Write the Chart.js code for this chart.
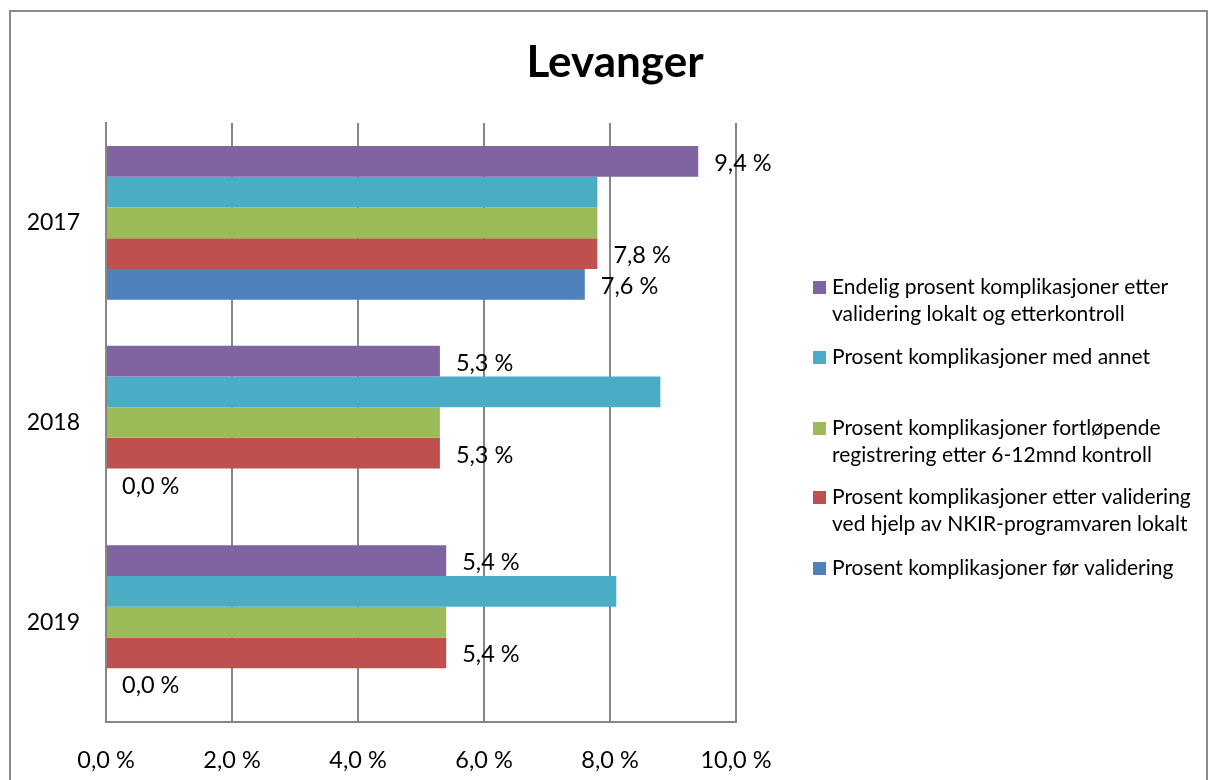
<!DOCTYPE html>
<html>
<head>
<meta charset="utf-8">
<script src="https://cdn.jsdelivr.net/npm/chart.js@4/dist/chart.umd.min.js"></script>
<style>
  html, body { margin: 0; padding: 0; background: #ffffff; }
  #wrap { width: 1209px; height: 780px; position: relative; }
</style>
</head>
<body>
<div id="wrap"><canvas id="c"></canvas></div>
<script>
// ---- data ----
const chartTitle = 'Levanger';
const categories = ['2017', '2018', '2019'];
const seriesNames = [
  ['Endelig prosent komplikasjoner etter', 'validering lokalt og etterkontroll'],
  ['Prosent komplikasjoner med annet'],
  ['Prosent komplikasjoner fortløpende', 'registrering etter 6-12mnd kontroll'],
  ['Prosent komplikasjoner etter validering', 'ved hjelp av NKIR-programvaren lokalt'],
  ['Prosent komplikasjoner før validering']
];
const endelig = [9.4, 5.3, 5.4];
const medAnnet = [7.8, 8.8, 8.1];
const fortlopende = [7.8, 5.3, 5.4];
const etterValidering = [7.8, 5.3, 5.4];
const forValidering = [7.6, 0.0, 0.0];
const labelledSeries = [true, false, false, true, true];
const xTickValues = [0, 2, 4, 6, 8, 10];

const seriesValues = [endelig, medAnnet, fortlopende, etterValidering, forValidering];
const seriesColors = ['#8064A2', '#4BACC6', '#9BBB59', '#C0504D', '#4F81BD'];

const FONT = 'Lato, "Open Sans", sans-serif';
const fmtPct = v => v.toFixed(1).replace('.', ',') + ' %';

const decorPlugin = {
  id: 'decor',
  beforeDraw(chart) {
    const ctx = chart.ctx;
    ctx.save();
    ctx.fillStyle = '#ffffff';
    ctx.fillRect(0, 0, chart.width, chart.height);
    ctx.strokeStyle = '#8a8a8a';
    ctx.lineWidth = 2;
    ctx.strokeRect(10, 11, 1197, 1000);
    // title
    ctx.fillStyle = '#000';
    ctx.font = 'bold 44px ' + FONT;
    ctx.textAlign = 'center';
    ctx.textBaseline = 'alphabetic';
    ctx.fillText(chartTitle, 615, 77);
    ctx.restore();
  },
  afterDraw(chart) {
    const ctx = chart.ctx;
    ctx.save();
    // legend
    const itemY = [287, 357, 428, 497, 568];
    ctx.font = '21px ' + FONT;
    ctx.textAlign = 'left';
    ctx.textBaseline = 'middle';
    chart.data.datasets.forEach((ds, i) => {
      const y = itemY[i];
      ctx.fillStyle = ds.backgroundColor;
      ctx.fillRect(813, y - 6, 13, 13);
      ctx.fillStyle = '#000';
      ds.legendLines.forEach((line, k) => {
        ctx.fillText(line, 832, y + k * 27);
      });
    });
    // data labels
    ctx.font = '23.5px ' + FONT;
    chart.data.datasets.forEach((ds, i) => {
      if (!labelledSeries[i]) return;
      const meta = chart.getDatasetMeta(i);
      meta.data.forEach((bar, j) => {
        ctx.fillText(fmtPct(ds.data[j]), bar.x + 16, bar.y + 2);
      });
    });
    ctx.restore();
  }
};

new Chart(document.getElementById('c'), {
  type: 'bar',
  data: {
    labels: categories,
    datasets: seriesValues.map((vals, i) => ({
      label: seriesNames[i].join(' '),
      legendLines: seriesNames[i],
      data: vals,
      backgroundColor: seriesColors[i],
      borderWidth: 0,
      categoryPercentage: 0.77,
      barPercentage: 1.0
    }))
  },
  options: {
    indexAxis: 'y',
    responsive: true,
    maintainAspectRatio: false,
    animation: false,
    layout: { padding: { top: 123, right: 473, bottom: 0, left: 0 } },
    plugins: {
      legend: { display: false },
      title: { display: false },
      tooltip: { enabled: false }
    },
    scales: {
      x: {
        min: 0, max: 10,
        afterBuildTicks(scale) { scale.ticks = xTickValues.map(v => ({ value: v })); },
        ticks: {
          callback: v => fmtPct(v),
          font: { family: FONT, size: 23.5 },
          color: '#000',
          padding: 24,
          maxRotation: 0
        },
        grid: { color: '#868686', lineWidth: 2, drawTicks: false },
        border: { display: true, color: '#868686', width: 2 },
        afterFit(scale) { scale.height = 58; }
      },
      y: {
        ticks: {
          font: { family: FONT, size: 23 },
          color: '#000',
          padding: 26
        },
        grid: { color: 'rgba(0,0,0,0)', drawTicks: false },
        border: { display: true, color: '#868686', width: 2 },
        afterFit(scale) { scale.width = 106; }
      }
    }
  },
  plugins: [decorPlugin]
});
</script>
</body>
</html>
